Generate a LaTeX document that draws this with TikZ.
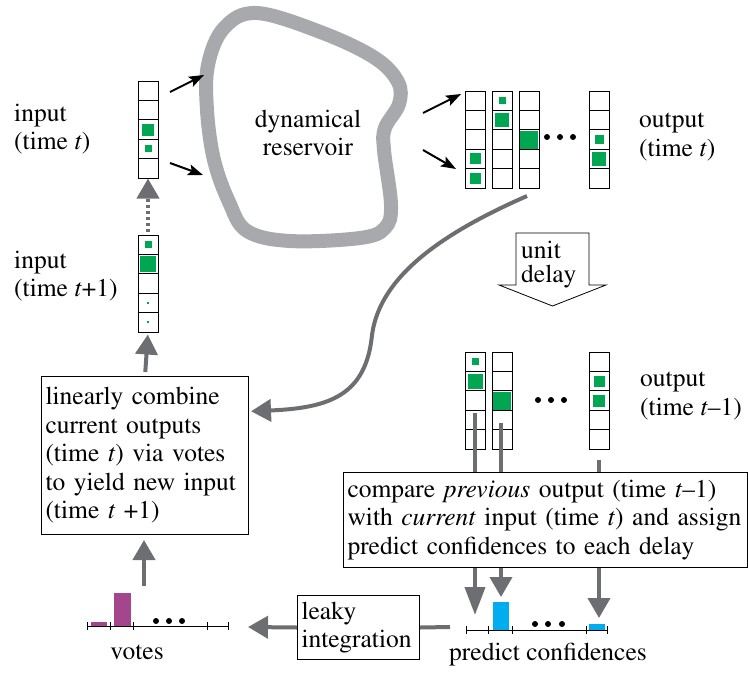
\documentclass[tikz,border=0pt]{standalone}
\usepackage[T1]{fontenc}
\usepackage{times}
\usetikzlibrary{arrows.meta}
\definecolor{vgreen}{RGB}{0,166,81}
\definecolor{arrgray}{RGB}{109,110,113}
\definecolor{resgray}{RGB}{167,169,172}
\definecolor{vpurple}{RGB}{164,70,140}
\definecolor{vblue}{RGB}{0,174,239}
\newcommand\vstack[4]{%
  \foreach \c/\s in {#4}{\fill[vgreen] ({#2+10-\s/2},{#3+(\c-0.5)*19.4-\s/2}) rectangle ++(\s,\s);}
  \node[vecbox] (#1) at ({#2+10},{#3+48.5}) {};
  \foreach \k in {1,...,4}{\draw[cellline] (#2,{#3+\k*19.4}) -- ++(20,0);}
}
\begin{document}
\begin{tikzpicture}[x=1pt,y=-1pt,
  txt/.style={font=\fontsize{25.5}{28.5}\selectfont, inner sep=0pt, align=left},
  vecbox/.style={draw, line width=1pt, minimum width=20pt, minimum height=97pt, inner sep=0pt},
  cellline/.style={line width=1pt},
  blackarrow/.style={line width=2pt, -{Stealth[length=15pt,width=11pt,inset=3pt]}},
  grayarrow/.style={arrgray, line width=4pt, -{Triangle[length=20pt,width=22pt]}},
  grayline/.style={arrgray, line width=4pt},
  textbox/.style={draw, line width=1pt, inner sep=4pt, align=left, font=\fontsize{25.5}{28.5}\selectfont},
  axisline/.style={line width=1pt},
  dot/.style={fill=black},
  ]
\useasboundingbox (0,0) rectangle (748,673);

% reservoir
\draw[resgray, line width=14pt] plot[smooth cycle, tension=0.6] coordinates {
 (224,28) (257,13) (323,33) (375,58) (398,82) (399,104) (385,128) (384,150)
 (391,205) (385,228) (360,238) (290,241) (247,231) (229,202) (214,160) (207,110) (208,65)};
\node[txt, align=center] (res) at (308,133) {dynamical\\reservoir};

% input vectors
\vstack{inA}{138}{81}{3/12,4/7}
\vstack{inB}{138}{235}{1/7,2/16,4/2,5/2}
\node[txt, anchor=west] (lblinA) at (14,129) {input\\(time \textit{t})};
\node[txt, anchor=west] (lblinB) at (14,276) {input\\(time \textit{t}+1)};

% output time t
\vstack{oA1}{465}{91}{4/11,5/11}
\vstack{oA2}{492}{91}{1/7,2/14}
\vstack{oA3}{519}{91}{3/18}
\vstack{oA4}{589}{91}{3/9,4/14}
\fill[dot] (547,137) circle (3pt) (560,137) circle (3pt) (573,137) circle (3pt);
\node[txt, anchor=west] (lbloA) at (639,137) {output\\(time \textit{t})};

% output time t-1
\vstack{oB1}{465}{352}{1/7,2/15}
\vstack{oB2}{492}{352}{3/18}
\vstack{oB3}{589}{352}{2/11,3/12}
\fill[dot] (538,400) circle (3pt) (551,400) circle (3pt) (564,400) circle (3pt);
\node[txt, anchor=west] (lbloB) at (640,396) {output\\(time \textit{t}--1)};

% black arrows
\coordinate (a1s) at (170,92);  \coordinate (a1e) at (204,75);
\coordinate (a2s) at (170,163); \coordinate (a2e) at (203,175);
\coordinate (a3s) at (423,113); \coordinate (a3e) at (461,94);
\coordinate (a4s) at (423,150); \coordinate (a4e) at (456,169);
\draw[blackarrow] (a1s) -- (a1e);
\draw[blackarrow] (a2s) -- (a2e);
\draw[blackarrow] (a3s) -- (a3e);
\draw[blackarrow] (a4s) -- (a4e);

% unit delay arrow
\draw[line width=0.8pt, fill=white] (516,233) -- (589,233) -- (589,285) -- (606,285)
  -- (552.5,306) -- (499,285) -- (516,285) -- cycle;
\node[anchor=west, inner sep=0pt, align=left, font=\fontsize{25.5}{24}\selectfont] (ud) at (521,265) {unit\\delay};

% boxes
\node[textbox, anchor=north west, minimum width=207pt, minimum height=158pt, text width=199pt] (comb) at (41,376)
 {linearly combine\\current outputs\\(time \textit{t}) via votes\\to yield new input\\(time \textit{t} +1)};
\node[textbox, anchor=north west, minimum width=404pt, minimum height=95pt, text width=396pt] (cmp) at (343,472)
 {compare \textit{previous} output (time \textit{t}--1)\\with \textit{current} input (time \textit{t}) and assign\\predict confidences to each delay};
\node[textbox, anchor=north west, minimum width=122pt, minimum height=64pt, text width=114pt] (leak) at (297,595)
 {leaky\\integration};

% input connectors
\coordinate (dotS) at (148,232);
\draw[grayarrow, dash pattern=on 3pt off 3pt] (dotS) -- (inA.south);
\draw[grayarrow, shorten <=4pt, shorten >=2pt] (comb.north) -- (inB.south);
\coordinate (cs) at (527,196);
\draw[grayarrow, shorten >=2pt] (cs) .. controls (445,232) and (380,275) .. (372,335)
  .. controls (366,395) and (330,408) .. (comb.23);

% compare connectors
\coordinate (l1) at (475,413);
\coordinate (l2) at (501,423);
\coordinate (l3) at (599,460);
\draw[grayline] (l1) -- (l1 |- cmp.north);
\draw[grayline] (l2) -- (l2 |- cmp.north);
\draw[grayline] (l3) -- (l3 |- cmp.north);
\coordinate (t1) at (475,615);
\coordinate (t2) at (501,597);
\coordinate (t3) at (599,618);
\draw[grayarrow, -{Triangle[length=28pt,width=20pt]}] (t1 |- cmp.south) -- (t1);
\draw[grayarrow] (t2 |- cmp.south) -- (t2);
\draw[grayarrow] (t3 |- cmp.south) -- (t3);

% predict confidences
\fill[vblue] (493,602) rectangle (509,630);
\fill[vblue] (589,624) rectangle (605,630);
\coordinate (pcL) at (466,630); \coordinate (pcR) at (607,630);
\draw[axisline] (pcL) -- (pcR);
\foreach \x in {466,488,512,586,607}{\draw[axisline] (\x,626) -- (\x,634);}
\fill[dot] (535,624) circle (3pt) (548,624) circle (3pt) (562,624) circle (3pt);
\node[txt] (pclbl) at (548,655) {predict confidences};
\coordinate (pcgap) at (450,627);
\draw[grayline] (pcgap) -- (leak.east);
\coordinate (vtip) at (248,627);
\draw[grayarrow] (leak.west) -- (vtip);

% votes
\fill[vpurple] (91,622) rectangle (107,626);
\fill[vpurple] (114,593) rectangle (131,626);
\coordinate (vL) at (87,626); \coordinate (vR) at (228,626);
\draw[axisline] (vL) -- (vR);
\foreach \x in {87,110,133,207,228}{\draw[axisline] (\x,622) -- (\x,630);}
\fill[dot] (156,621) circle (3pt) (169,621) circle (3pt) (182,621) circle (3pt);
\node[txt] (vlbl) at (137,652) {votes};
\coordinate (vs) at (144,586);
\draw[grayarrow, shorten >=5pt] (vs) -- (vs |- comb.south);
\end{tikzpicture}
\end{document}
